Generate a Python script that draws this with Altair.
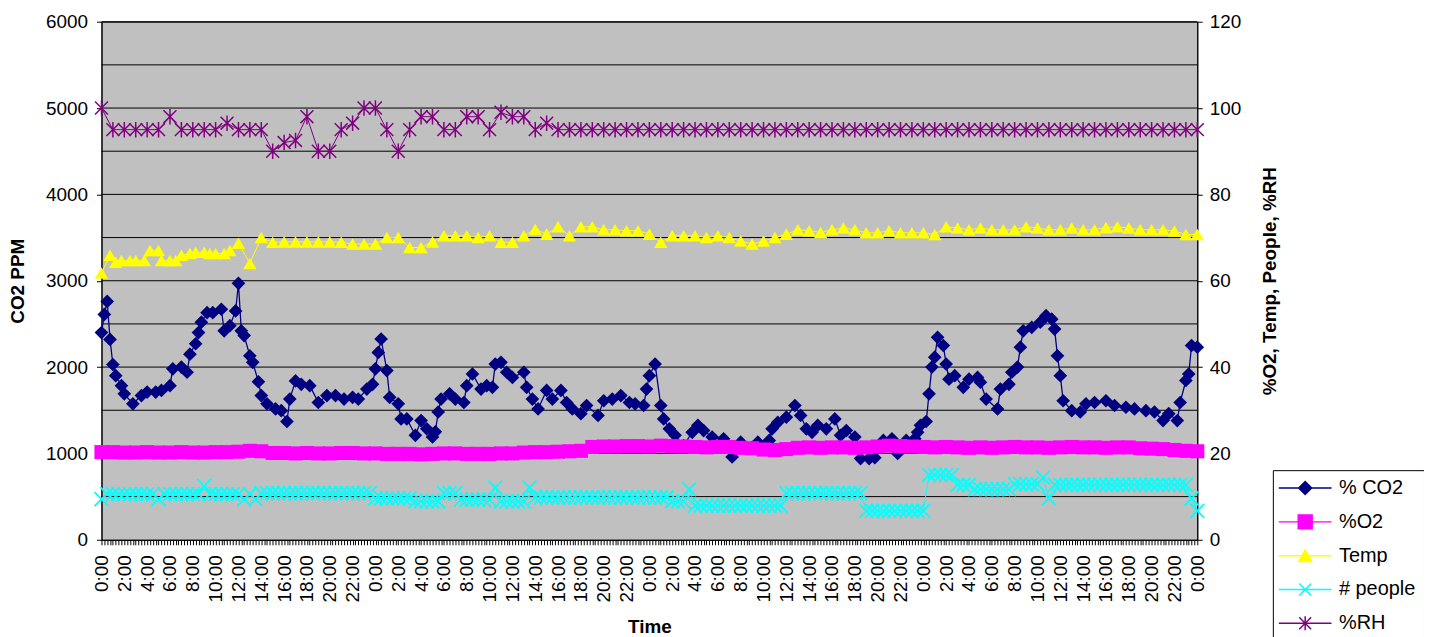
import altair as alt
import pandas as pd

FONT = "Liberation Sans"

# ---------------- data ----------------
co2_hours = [
    0, 0.25, 0.5, 0.75, 1.0, 1.25, 1.75, 2.0, 2.75, 3.5,
    4.0, 4.75, 5.25, 6.0, 6.25, 7.0, 7.5, 7.75, 8.25, 8.5,
    8.75, 9.25, 9.75, 10.5, 10.75, 11.25, 11.75, 12.0, 12.25, 12.5,
    13.0, 13.25, 13.75, 14.0, 14.5, 15.25, 15.75, 16.25, 16.5, 17.0,
    17.5, 18.25, 19.0, 19.75, 20.5, 21.25, 22.0, 22.5, 23.25, 23.75,
    24.0, 24.25, 24.5, 25.0, 25.25, 26.0, 26.25, 26.75, 27.5, 28.0,
    28.5, 29.0, 29.25, 29.5, 29.75, 30.5, 31.0, 31.75, 32.0, 32.5,
    33.25, 33.75, 34.25, 34.5, 35.0, 35.5, 36.0, 37.0, 37.25, 37.75,
    38.25, 39.0, 39.5, 40.25, 40.75, 41.25, 42.0, 42.5, 43.5, 44.0,
    44.75, 45.5, 46.25, 46.75, 47.5, 47.75, 48.0, 48.5, 49.0, 49.25,
    49.75, 50.25, 51.0, 51.75, 52.25, 52.75, 53.5, 54.5, 55.25, 56.0,
    57.0, 57.5, 58.5, 58.75, 59.25, 60.0, 60.75, 61.25, 61.75, 62.25,
    62.75, 63.5, 64.25, 64.75, 65.25, 66.0, 66.5, 67.25, 67.75, 68.5,
    69.25, 69.75, 70.5, 71.25, 71.5, 71.75, 72.25, 72.5, 72.75, 73.0,
    73.25, 73.75, 74.0, 74.25, 74.75, 75.5, 76.0, 76.75, 77.0, 77.5,
    78.5, 78.75, 79.5, 79.75, 80.25, 80.5, 80.75, 81.5, 82.25, 82.75,
    83.25, 83.5, 83.75, 84.0, 84.25, 85.0, 85.75, 86.25, 87.0, 88.0,
    88.75, 89.75, 90.5, 91.5, 92.25, 93.0, 93.5, 94.25, 94.5, 95.0,
    95.25, 95.5, 96.0,
]
co2_values = [
    2400, 2610, 2760, 2320, 2030, 1900, 1785, 1690, 1575, 1670,
    1710, 1710, 1730, 1785, 1980, 2000, 1940, 2150, 2270, 2400,
    2520, 2630, 2630, 2670, 2420, 2480, 2650, 2970, 2420, 2365,
    2130, 2055, 1830, 1670, 1575, 1515, 1495, 1370, 1630, 1840,
    1800, 1785, 1590, 1670, 1670, 1630, 1650, 1630, 1745, 1800,
    1980, 2170, 2325, 1960, 1650, 1575, 1400, 1400, 1210, 1380,
    1285, 1190, 1250, 1480, 1630, 1690, 1630, 1590, 1785, 1920,
    1745, 1785, 1765, 2035, 2055, 1940, 1880, 1940, 1765, 1630,
    1515, 1730, 1630, 1730, 1590, 1515, 1460, 1555, 1440, 1610,
    1630, 1670, 1590, 1575, 1555, 1745, 1900, 2035, 1555, 1400,
    1285, 1210, 1090, 1245, 1325, 1265, 1190, 1170, 960, 1130,
    1070, 1130, 1150, 1285, 1360, 1420, 1555, 1440, 1285, 1245,
    1325, 1285, 1400, 1210, 1265, 1190, 940, 940, 950, 1150,
    1170, 1000, 1150, 1170, 1245, 1325, 1370, 1690, 2000, 2115,
    2345, 2250, 2035, 1860, 1900, 1765, 1860, 1880, 1825, 1630,
    1515, 1745, 1800, 1940, 2000, 2230, 2420, 2460, 2520, 2595,
    2555, 2440, 2130, 1900, 1610, 1495, 1480, 1575, 1590, 1610,
    1555, 1535, 1515, 1495, 1480, 1380, 1460, 1380, 1590, 1845,
    1920, 2250, 2230,
]

# %O2, hourly 0:00 .. 0:00 (97 readings)
o2_values = [
    20.3, 20.3, 20.2, 20.2, 20.3, 20.2, 20.2, 20.3, 20.2, 20.2, 20.3, 20.3, 20.4,
    20.6, 20.5,
    20.1, 20.1, 20.0, 20.1, 20.0, 20.0, 20.1, 20.1, 20.0, 20.0,
    19.9, 19.9, 19.9, 19.8, 19.9, 20.0, 20.0, 19.9, 19.9, 19.9, 20.0, 20.0,
    20.2, 20.3, 20.3, 20.4, 20.5, 20.6,
    21.5, 21.6, 21.6, 21.7, 21.7, 21.6, 21.8,
    21.7, 21.6, 21.5, 21.4, 21.5, 21.5, 21.3, 21.2, 20.9,
    20.8, 21.0,
    21.3, 21.4, 21.3, 21.4, 21.4, 21.3, 21.4,
    21.6, 21.8, 21.7, 21.6, 21.5,
    21.4, 21.5, 21.4, 21.3, 21.4, 21.3, 21.4, 21.5, 21.4,
    21.4, 21.3, 21.4, 21.5, 21.4, 21.4, 21.3, 21.4, 21.4,
    21.2, 21.1, 21.0,
    20.8, 20.6, 20.5,
]

# Temperature: denser readings during the first half-day, then hourly
temp_early_hours = [0, 0.75, 1.25, 1.75, 2.5, 3.0, 3.75, 4.25, 5.0, 5.25, 6.0,
                    6.5, 7.0, 7.75, 8.25, 9.0, 9.5, 10.0, 10.75, 11.25, 12.0, 13.0]
temp_early_values = [61.8, 65.9, 64.3, 64.7, 64.7, 64.7, 64.7, 67.0, 67.0, 64.7, 64.7,
                     64.7, 65.9, 66.3, 66.6, 66.6, 66.3, 66.3, 66.3, 67.0, 68.7, 64.0]
temp_hourly_values = [  # 14:00 day 1 .. 0:00 day 5
    70.0, 68.9, 69.0, 69.0, 69.0, 69.0, 69.0, 68.9, 68.5, 68.5,
    68.5, 70.0, 70.0, 67.7, 67.7, 69.0, 70.4, 70.4, 70.4, 70.0,
    70.4, 68.9, 68.9, 70.4, 71.9, 70.8, 72.5, 70.4, 72.5, 72.5,
    71.8, 71.8, 71.6, 71.6, 70.8, 68.9, 70.4, 70.4, 70.4, 70.0,
    70.4, 70.0, 69.2, 68.5, 69.2, 70.0, 70.8, 71.8, 71.6, 71.2,
    71.8, 72.2, 71.8, 71.1, 71.1, 71.6, 71.1, 71.1, 71.1, 70.7,
    72.5, 72.2, 71.8, 72.2, 71.8, 71.8, 71.8, 72.5, 72.2, 71.8,
    71.8, 72.2, 71.8, 71.8, 72.3, 72.5, 72.2, 71.8, 71.8, 71.8,
    71.5, 70.7, 70.7,
]

# # people, half-hourly (193 readings)
people_values = [
    9.4, 10.6, 10.6, 10.6, 10.6, 10.6, 10.6, 10.6, 10.6, 10.6, 9.4, 10.6,
    10.6, 10.6, 10.6, 10.6, 10.6, 10.6, 12.5, 10.6, 10.6, 10.6, 10.6, 10.6,
    10.6, 9.4, 10.6, 9.4, 10.8, 10.8, 10.8, 10.8, 10.8, 10.8, 10.8, 10.8,
    10.8, 10.8, 10.8, 10.8, 10.8, 10.8, 10.8, 10.8, 10.8, 10.8, 10.8, 10.8,
    9.6, 9.6, 9.6, 9.6, 9.6, 9.6, 9.6, 8.9, 8.9, 8.9, 8.9, 8.9,
    10.8, 10.8, 10.8, 9.3, 9.3, 9.3, 9.3, 9.3, 9.3, 12.1, 8.9, 8.9,
    8.9, 8.9, 8.9, 12.1, 9.8, 9.8, 9.8, 9.8, 9.8, 9.8, 9.8, 9.8,
    9.8, 9.8, 9.8, 9.8, 9.8, 9.8, 9.8, 9.8, 9.8, 9.8, 9.8, 9.8,
    9.8, 9.8, 9.8, 9.8, 8.9, 8.9, 8.9, 11.7, 7.9, 7.9, 7.9, 7.9,
    7.9, 7.9, 7.9, 7.9, 7.9, 7.9, 7.9, 7.9, 7.9, 7.9, 7.9, 7.9,
    10.8, 10.8, 10.8, 10.8, 10.8, 10.8, 10.8, 10.8, 10.8, 10.8, 10.8, 10.8,
    10.8, 10.8, 6.7, 6.7, 6.7, 6.7, 6.7, 6.7, 6.7, 6.7, 6.7, 6.7,
    6.7, 15.0, 15.0, 15.0, 15.0, 15.0, 12.7, 12.7, 12.7, 11.7, 11.7, 11.7,
    11.7, 11.7, 11.7, 11.7, 12.9, 12.9, 12.9, 12.9, 12.9, 14.4, 9.6, 12.7,
    12.7, 12.7, 12.7, 12.7, 12.7, 12.7, 12.7, 12.7, 12.7, 12.7, 12.7, 12.7,
    12.7, 12.7, 12.7, 12.7, 12.7, 12.7, 12.7, 12.7, 12.7, 12.7, 12.7, 9.6,
    6.7,
]

# %RH, hourly (97 readings)
rh_values = [
    100, 95, 95, 95, 95, 95, 98, 95, 95, 95, 95, 96.5, 95, 95, 95,
    90, 92, 92.5, 98, 90, 90, 95, 96.5, 100, 100, 95, 90, 95, 98, 98,
    95, 95, 98, 98, 95, 99, 98, 98, 95, 96.5,
    95, 95, 95, 95, 95, 95, 95, 95, 95, 95, 95, 95, 95, 95, 95, 95, 95, 95, 95,
    95, 95, 95, 95, 95, 95, 95, 95, 95, 95, 95, 95, 95, 95, 95, 95, 95, 95, 95,
    95, 95, 95, 95, 95, 95, 95, 95, 95, 95, 95, 95, 95, 95, 95, 95, 95, 95, 95,
]

grid_values = [500, 1000, 1500, 2000, 2500, 3000, 3500, 4000, 4500, 5000, 5500, 6000]
left_ticks = [0, 1000, 2000, 3000, 4000, 5000, 6000]
right_ticks = [0, 20, 40, 60, 80, 100, 120]

series_names = ["% CO2", "%O2", "Temp", "# people", "%RH"]
series_colors = ["#000080", "#FF00FF", "#FFFF00", "#00FFFF", "#800080"]

# ---------------- tables ----------------
hourly = list(range(97))
half_hourly = [i / 2 for i in range(193)]
co2_df = pd.DataFrame({"hour": co2_hours, "value": co2_values})
o2_df = pd.DataFrame({"hour": hourly, "value": o2_values})
temp_df = pd.DataFrame({"hour": temp_early_hours + list(range(14, 97)),
                        "value": temp_early_values + temp_hourly_values})
people_df = pd.DataFrame({"hour": half_hourly, "value": people_values})
rh_df = pd.DataFrame({"hour": hourly, "value": rh_values})
grid_df = pd.DataFrame({"g": grid_values})
legend_df = pd.DataFrame({"series": series_names, "hour": [48] * 5, "value": [-500] * 5})

# ---------------- scales / axes ----------------
x_ticks = [i / 4 for i in range(385)]
x_axis = alt.Axis(
    values=x_ticks,
    labelExpr="datum.value % 2 == 0 ? (datum.value % 24) + ':00' : ''",
    labelAngle=270, labelOverlap=False, labelBound=False, labelFlush=False,
    labelPadding=10, labelFontSize=19, labelFont=FONT, labelColor="black",
    tickSize=5, tickColor="black", tickWidth=1, domainColor="black", grid=False,
    title="Time", titleFont=FONT, titleFontSize=19, titleFontWeight="bold",
    titleColor="black", titleY=87, titleBaseline="middle",
)
X = alt.X("hour:Q", scale=alt.Scale(domain=[0, 96], nice=False, zero=False), axis=x_axis)

left_scale = alt.Scale(domain=[0, 6000], nice=False, zero=True)
right_scale = alt.Scale(domain=[0, 120], nice=False, zero=True)

left_axis = alt.Axis(
    orient="left", values=left_ticks, format="d", grid=False, tickSize=5,
    tickColor="black", domainColor="black", labelPadding=9, labelFontSize=19,
    labelFont=FONT, labelColor="black", title="CO2 PPM", titleFont=FONT,
    titleFontSize=19, titleFontWeight="bold", titleColor="black", titleAngle=270,
    titleX=-84, titleBaseline="middle",
)
right_axis = alt.Axis(
    orient="right", values=right_ticks, format="d", grid=False, tickSize=5,
    tickColor="black", domainColor="black", labelPadding=7, labelFontSize=19,
    labelFont=FONT, labelColor="black", title="%O2, Temp, People, %RH",
    titleFont=FONT, titleFontSize=19, titleFontWeight="bold", titleColor="black",
    titleAngle=270, titleX=73, titleBaseline="middle",
)

X_PATH = "M-1,-1L1,1M-1,1L1,-1"
STAR_PATH = "M-1,-1L1,1M-1,1L1,-1M0,-1.2L0,1.2"
legend_paths = [
    "M-5.3,0L5.3,0M0,-1.3L1.3,0L0,1.3L-1.3,0Z",
    "M-5.3,0L5.3,0M-1.4,-1.4L1.4,-1.4L1.4,1.4L-1.4,1.4Z",
    "M-5.3,0L5.3,0M0,-1.15L1.3,1.15L-1.3,1.15Z",
    "M-5.3,0L5.3,0M-1.2,-1.2L1.2,1.2M-1.2,1.2L1.2,-1.2",
    "M-5.3,0L5.3,0M-1.2,-1.2L1.2,1.2M-1.2,1.2L1.2,-1.2M0,-1.4L0,1.4",
]


def yenc(scale, axis=None):
    return alt.Y("value:Q", scale=scale, axis=axis)


grid = alt.Chart(grid_df).mark_rule(color="black", strokeWidth=1).encode(
    y=alt.Y("g:Q", scale=left_scale, axis=None)
)

co2_line = alt.Chart(co2_df).mark_line(color="#000080", strokeWidth=1.3).encode(
    x=X, y=yenc(left_scale, left_axis))
co2_pts = alt.Chart(co2_df).mark_point(shape="diamond", size=190, filled=True,
                                       color="#000080", opacity=1).encode(
    x=X, y=yenc(left_scale))

o2_line = alt.Chart(o2_df).mark_line(color="#FF00FF", strokeWidth=1).encode(
    x=X, y=yenc(right_scale, right_axis))
o2_pts = alt.Chart(o2_df).mark_point(shape="square", size=200, filled=True,
                                     color="#FF00FF", opacity=1).encode(
    x=X, y=yenc(right_scale))

temp_line = alt.Chart(temp_df).mark_line(color="#FFFF00", strokeWidth=1).encode(
    x=X, y=yenc(right_scale))
temp_pts = alt.Chart(temp_df).mark_point(shape="triangle-up", size=180, filled=True,
                                         color="#FFFF00", opacity=1).encode(
    x=X, y=yenc(right_scale))

people_line = alt.Chart(people_df).mark_line(color="#00FFFF", strokeWidth=1).encode(
    x=X, y=yenc(right_scale))
people_pts = alt.Chart(people_df).mark_point(shape=X_PATH, size=196, filled=False,
                                             color="#00FFFF", strokeWidth=1.8,
                                             opacity=1).encode(
    x=X, y=yenc(right_scale))

rh_line = alt.Chart(rh_df).mark_line(color="#800080", strokeWidth=1).encode(
    x=X, y=yenc(right_scale))
rh_pts = alt.Chart(rh_df).mark_point(shape=STAR_PATH, size=169, filled=False,
                                     color="#800080", strokeWidth=1.5,
                                     opacity=1).encode(
    x=X, y=yenc(right_scale))

leg = alt.Legend(
    orient="none", legendX=1178, legendY=451, title=None,
    labelFont=FONT, labelFontSize=20, labelColor="black",
    symbolSize=100, symbolStrokeWidth=1.5, padding=8,
    strokeColor="black", fillColor="white", rowPadding=14,
    labelOffset=24, symbolOffset=14.5,
)
legend_layer = alt.Chart(legend_df).mark_point(clip=True, size=100, opacity=1,
                                               strokeWidth=1.5, filled=False).encode(
    x=X,
    y=yenc(right_scale),
    stroke=alt.Stroke("series:N", scale=alt.Scale(domain=series_names, range=series_colors), legend=leg),
    fill=alt.Fill("series:N", scale=alt.Scale(domain=series_names, range=series_colors), legend=leg),
    shape=alt.Shape("series:N", scale=alt.Scale(domain=series_names, range=legend_paths), legend=leg),
)

chart = alt.layer(
    grid, co2_line, co2_pts, o2_line, o2_pts, temp_line, temp_pts,
    people_line, people_pts, rh_line, rh_pts, legend_layer,
).resolve_scale(y="independent").properties(
    width=1102, height=521,
    autosize=alt.AutoSizeParams(type="none"),
    padding={"left": 94, "top": 12, "right": 228, "bottom": 96},
    background="white",
).configure_view(fill="#C0C0C0", stroke="black", strokeWidth=1)

chart.save("out.html", embed_options={"renderer": "svg", "actions": False})
